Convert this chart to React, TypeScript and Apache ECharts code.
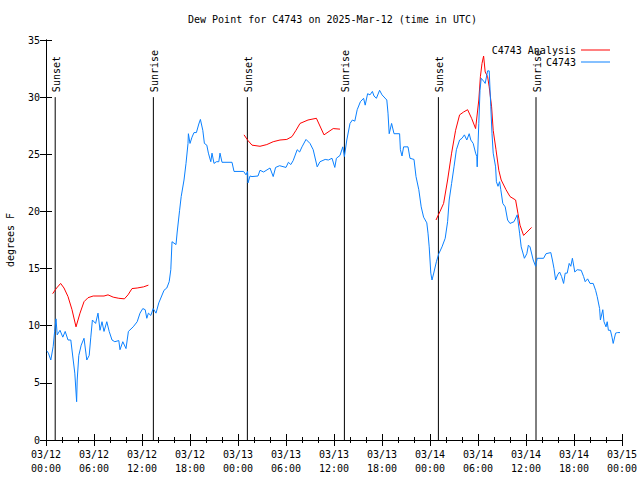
import React, { useEffect, useRef } from "react";
import * as echarts from "echarts";

// hours since 2025-03-12 00:00 UTC
const xTickLabels = [
  "03/12\n00:00", "03/12\n06:00", "03/12\n12:00", "03/12\n18:00",
  "03/13\n00:00", "03/13\n06:00", "03/13\n12:00", "03/13\n18:00",
  "03/14\n00:00", "03/14\n06:00", "03/14\n12:00", "03/14\n18:00",
  "03/15\n00:00",
];

const eventHours = [1.15, 13.42, 25.17, 37.3, 49.05, 61.25];
const eventLabels = ["Sunset", "Sunrise", "Sunset", "Sunrise", "Sunset", "Sunrise"];

const obsHours = [
  0.1, 0.3, 0.6, 0.9, 1.08, 1.25, 1.4, 1.75, 2.1, 2.4, 2.75, 3.1, 3.4, 3.6, 3.75, 3.83, 3.9, 4.1, 4.4, 4.75,
  5.1, 5.4, 5.6, 5.8, 6.2, 6.5, 6.75, 7.0, 7.25, 7.6, 7.9, 8.25, 8.6, 9.1, 9.25, 9.6, 10.0, 10.3, 10.9, 11.4,
  11.75, 12.1, 12.4, 12.6, 12.8, 13.1, 13.4, 13.75, 14.1, 14.25, 14.75, 15.1, 15.4, 15.6, 15.75, 16.25, 16.4, 16.7, 16.9, 17.25,
  17.5, 17.75, 17.8, 18.0, 18.25, 18.5, 18.8, 19.1, 19.3, 19.6, 19.8, 20.1, 20.3, 20.6, 20.75, 21.0, 21.3, 21.6, 21.75, 22.0,
  23.25, 23.5, 24.7, 25.0, 25.2, 25.25, 25.5, 25.75, 26.5, 26.75, 27.2, 28.0, 28.4, 28.7, 29.2, 30.0, 30.3, 30.6, 30.9, 31.4,
  31.7, 32.0, 32.5, 33.0, 33.4, 33.9, 34.25, 34.9, 35.3, 35.75, 36.1, 36.3, 36.75, 37.1, 37.3, 37.6, 38.0, 38.3, 38.6, 38.9,
  39.3, 39.7, 39.9, 40.2, 40.5, 40.8, 41.0, 41.3, 41.7, 42.0, 42.6, 42.75, 42.9, 43.2, 43.5, 44.2, 44.3, 44.5, 44.7, 45.25,
  45.5, 46.0, 46.25, 46.6, 46.9, 47.2, 47.6, 47.75, 47.9, 48.1, 48.25, 48.5, 48.8, 49.1, 49.5, 49.9, 50.2, 50.4, 50.7, 51.0,
  51.3, 51.7, 52.0, 52.3, 52.6, 52.9, 53.1, 53.4, 53.7, 53.85, 53.9, 54.1, 54.25, 54.4, 54.7, 54.9, 55.2, 55.4, 55.6, 55.75,
  55.9, 56.2, 56.3, 56.5, 56.7, 56.85, 57.1, 57.4, 57.7, 58.0, 58.5, 58.9, 59.2, 59.4, 59.8, 60.1, 60.3, 60.5, 60.9, 61.2,
  61.4, 62.2, 62.5, 63.1, 63.3, 63.5, 63.7, 63.95, 64.2, 64.45, 64.7, 64.9, 65.15, 65.4, 65.6, 65.8, 66.1, 66.4, 66.9, 67.2,
  67.4, 67.7, 68.0, 68.4, 68.7, 68.9, 69.2, 69.3, 69.6, 69.75, 70.0, 70.15, 70.3, 70.55, 70.75, 70.9, 71.2, 71.45, 71.75,
];
const obsValues = [
  7.8, 7.6, 7.0, 8.2, 9.5, 10.6, 9.2, 9.6, 9.0, 9.5, 8.75, 8.75, 7.0, 5.85, 4.2, 3.35, 5.25, 7.4, 8.3, 8.9,
  7.0, 7.4, 9.0, 10.5, 10.2, 11.1, 9.6, 10.35, 9.5, 10.35, 9.5, 8.75, 8.6, 8.7, 7.9, 8.6, 8.0, 9.5, 9.9, 10.35,
  11.1, 11.5, 11.4, 10.65, 11.1, 10.9, 11.5, 11.1, 12.0, 12.25, 13.1, 13.3, 13.85, 14.9, 17.35, 17.1, 18.2, 20.1, 21.3, 22.75,
  24.2, 25.95, 26.8, 25.95, 26.5, 26.9, 26.9, 27.65, 28.05, 27.1, 25.95, 25.8, 25.1, 24.35, 25.1, 24.2, 24.35, 24.35, 25.1, 24.3,
  24.3, 23.5, 23.5, 23.2, 23.5, 22.5, 23.1, 23.05, 23.1, 23.6, 23.45, 23.8, 23.05, 23.85, 24.0, 23.85, 24.3, 24.1, 24.45, 25.4,
  25.2, 25.65, 26.3, 25.95, 25.4, 23.9, 24.35, 24.55, 24.5, 24.65, 23.85, 24.65, 24.9, 25.65, 24.8, 26.25, 27.7, 28.0, 27.9, 28.9,
  29.6, 29.9, 29.3, 30.3, 30.2, 30.5, 30.1, 29.9, 30.6, 30.2, 29.75, 28.6, 26.8, 27.7, 26.8, 26.8, 25.4, 24.85, 25.65, 25.65,
  24.65, 24.55, 23.05, 21.9, 20.4, 19.5, 19.0, 18.1, 16.9, 14.6, 14.0, 14.7, 15.6, 16.3, 16.9, 17.65, 19.1, 21.0, 22.45, 23.9,
  25.4, 26.25, 26.4, 26.7, 26.25, 26.8, 26.25, 25.95, 25.1, 24.8, 23.9, 27.7, 30.6, 31.65, 31.4, 31.2, 32.3, 32.3, 29.15, 26.8,
  25.1, 23.9, 22.6, 22.2, 22.6, 21.9, 20.7, 20.4, 19.25, 18.95, 19.1, 19.7, 18.1, 16.9, 15.9, 16.3, 17.05, 16.9, 15.75, 15.2,
  15.9, 15.9, 16.3, 16.4, 15.75, 15.0, 14.0, 14.45, 14.7, 14.3, 13.7, 14.6, 14.6, 15.45, 15.2, 15.9, 14.7, 14.9, 14.85, 14.3,
  13.85, 14.1, 13.7, 13.7, 13.1, 12.55, 11.5, 10.5, 11.4, 10.35, 9.9, 10.35, 9.6, 9.6, 9.0, 8.45, 9.35, 9.4, 9.4,
];

const analysisNight1Hours = [0.83, 1.33, 1.83, 2.25, 2.75, 3.25, 3.75, 4.25, 4.75, 5.25, 5.9, 7.25, 7.75, 8.4, 9.1, 9.8, 10.25, 10.75, 11.4, 12.2, 12.8];
const analysisNight1Values = [12.8, 13.3, 13.7, 13.3, 12.55, 11.4, 9.9, 11.1, 12.1, 12.45, 12.6, 12.6, 12.7, 12.5, 12.4, 12.35, 12.7, 13.25, 13.3, 13.4, 13.55];
const analysisNight2Hours = [24.75, 25.25, 25.75, 26.75, 27.6, 28.4, 29.25, 30.1, 30.75, 31.25, 31.75, 32.75, 33.8, 34.75, 35.9, 36.75];
const analysisNight2Values = [26.7, 26.2, 25.8, 25.7, 25.85, 26.1, 26.25, 26.3, 26.55, 27.1, 27.7, 28.0, 28.15, 26.7, 27.25, 27.2];
const analysisNight3Hours = [48.75, 49.25, 49.7, 50.2, 50.7, 51.2, 51.7, 52.2, 52.7, 53.2, 53.7, 54.1, 54.3, 54.5, 54.7, 54.9, 55.2, 55.4, 55.7, 55.9, 56.25, 56.6, 56.9, 57.5, 58.0, 58.7, 59.0, 59.25, 59.7, 60.7];
const analysisNight3Values = [19.25, 20.0, 20.7, 22.75, 25.1, 27.1, 28.45, 28.7, 28.9, 28.15, 27.25, 29.75, 31.8, 32.95, 33.6, 32.2, 31.8, 30.9, 29.15, 27.1, 25.4, 23.6, 22.75, 21.9, 21.3, 21.0, 19.8, 18.8, 17.9, 18.6];

const zip = (a: number[], b: number[]) => a.map((v, i) => [v, b[i]]);

const FONT = "'DejaVu Sans Mono', 'Liberation Mono', monospace";
const RED = "#ff0000";
const BLUE = "#0a80ff";

export default function App() {
  const ref = useRef<HTMLDivElement>(null);
  useEffect(() => {
    if (!ref.current) return;
    const chart = echarts.init(ref.current, null, { renderer: "svg" });
    const axisLine = { show: true, lineStyle: { color: "#000", width: 1 } };
    const xCommon = {
      type: "value" as const,
      min: 0,
      max: 72,
      interval: 6,
      axisLine,
      axisTick: { show: true, inside: true, length: 6, lineStyle: { color: "#000" } },
      minorTick: { show: true, splitNumber: 3, length: 3, lineStyle: { color: "#000" } },
      splitLine: { show: false },
      minorSplitLine: { show: false },
    };
    const yCommon = {
      type: "value" as const,
      min: 0,
      max: 35,
      interval: 5,
      axisLine,
      axisTick: { show: true, inside: true, length: 6, lineStyle: { color: "#000" } },
      splitLine: { show: false },
    };
    const analysisLine = (name: string, h: number[], v: number[]) => ({
      name,
      type: "line",
      data: zip(h, v),
      showSymbol: false,
      symbol: "none",
      lineStyle: { color: RED, width: 1 },
      itemStyle: { color: RED },
      z: 3,
    });
    chart.setOption({
      animation: false,
      backgroundColor: "#fff",
      title: {
        text: "Dew Point for C4743 on 2025-Mar-12 (time in UTC)",
        left: 183,
        top: 9,
        textStyle: { fontFamily: FONT, fontSize: 10, fontWeight: "normal", color: "#000" },
      },
      legend: {
        data: ["C4743 Analysis", "C4743"],
        orient: "vertical",
        right: 25,
        top: 40,
        align: "right",
        icon: "rect",
        itemWidth: 29,
        itemHeight: 1,
        itemGap: 2,
        textStyle: { fontFamily: FONT, fontSize: 10, color: "#000", padding: [0, 0, 0, 0] },
      },
      grid: { left: 46, right: 18, top: 40, bottom: 40, outerBoundsMode: "none", containLabel: false },
      xAxis: [
        {
          ...xCommon,
          position: "bottom",
          axisLabel: {
            formatter: (v: number) => xTickLabels[Math.round(v / 6)] ?? "",
            fontFamily: FONT,
            fontSize: 10,
            color: "#000",
            lineHeight: 14,
            margin: 7,
          },
        },
        { ...xCommon, position: "top", axisLabel: { show: false } },
      ],
      yAxis: [
        {
          ...yCommon,
          position: "left",
          name: "degrees F",
          nameLocation: "middle",
          nameGap: 31,
          nameTextStyle: { fontFamily: FONT, fontSize: 10, color: "#000" },
          axisLabel: { fontFamily: FONT, fontSize: 10, color: "#000", margin: 6 },
        },
        { ...yCommon, position: "right", axisLabel: { show: false } },
      ],
      series: [
        analysisLine("C4743 Analysis", analysisNight1Hours, analysisNight1Values),
        analysisLine("C4743 Analysis", analysisNight2Hours, analysisNight2Values),
        analysisLine("C4743 Analysis", analysisNight3Hours, analysisNight3Values),
        {
          name: "C4743",
          type: "line",
          data: zip(obsHours, obsValues),
          showSymbol: false,
          symbol: "none",
          lineStyle: { color: BLUE, width: 1 },
          itemStyle: { color: BLUE },
          z: 4,
        },
        {
          type: "custom",
          name: "events",
          data: eventHours.map((h) => [h, 30]),
          encode: { x: 0, y: 1 },
          silent: true,
          z: 2,
          renderItem: (params: any, api: any) => {
            const h = api.value(0);
            const top = api.value(1);
            const p0 = api.coord([h, 0]);
            const p1 = api.coord([h, top]);
            return {
              type: "group",
              children: [
                {
                  type: "line",
                  shape: { x1: p0[0], y1: p0[1], x2: p1[0], y2: p1[1] },
                  style: { stroke: "#000", lineWidth: 1 },
                },
                {
                  type: "text",
                  x: p1[0] + 1,
                  y: p1[1] - 5,
                  rotation: Math.PI / 2,
                  style: {
                    text: eventLabels[params.dataIndex],
                    fontFamily: FONT,
                    fontSize: 10,
                    fill: "#000",
                    align: "left",
                    verticalAlign: "middle",
                  },
                },
              ],
            };
          },
        },
      ],
    });
    return () => chart.dispose();
  }, []);
  return <div ref={ref} style={{ width: 640, height: 480, position: "absolute", left: 0, top: 0 }} />;
}
